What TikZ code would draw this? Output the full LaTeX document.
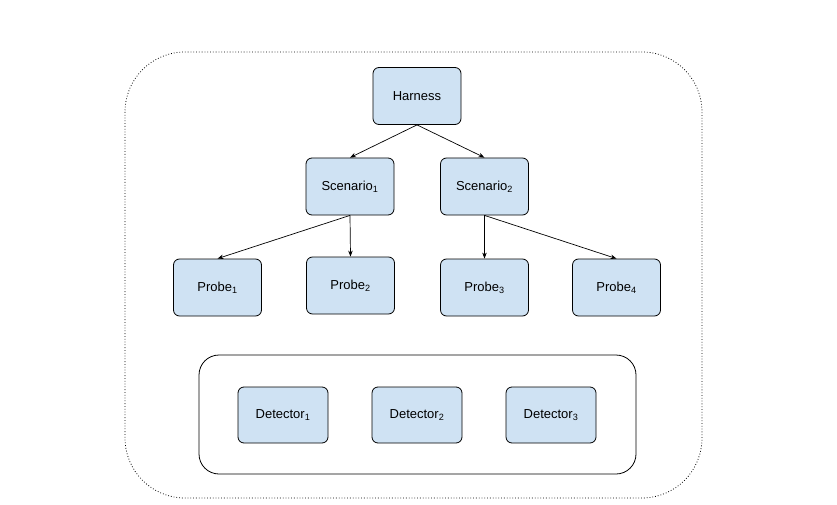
\documentclass[tikz,border=0pt]{standalone}
\usepackage{fontspec}
\setmainfont{Liberation Sans}
\usetikzlibrary{arrows.meta}
\definecolor{boxblue}{HTML}{CFE2F3}
\begin{document}
\begin{tikzpicture}[x=1pt,y=-1pt,
  box/.style={draw=black,fill=boxblue,rounded corners=6pt,minimum width=88pt,minimum height=57pt,font=\fontsize{13}{15}\selectfont,line width=0.8pt},
  arr/.style={-{Stealth[length=6pt,width=4.5pt]},line width=0.7pt}]
\useasboundingbox (0,0) rectangle (837,505);
\draw[dotted,line width=0.8pt,rounded corners=60pt] (125,52) rectangle (702,498);
\draw[line width=0.8pt,rounded corners=20pt] (199,355) rectangle (636,474);
\node[box] (h) at (417,96) {Harness};
\node[box] (s1) at (350,186.5) {Scenario\textsubscript{1}};
\node[box] (s2) at (484.5,186.5) {Scenario\textsubscript{2}};
\node[box] (p1) at (217.5,287.5) {Probe\textsubscript{1}};
\node[box] (p2) at (350.5,285.5) {Probe\textsubscript{2}};
\node[box] (p3) at (484.5,287.5) {Probe\textsubscript{3}};
\node[box] (p4) at (616.5,287.5) {Probe\textsubscript{4}};
\node[box,minimum width=90pt,minimum height=56pt] (d1) at (283,415) {Detector\textsubscript{1}};
\node[box,minimum width=90pt,minimum height=56pt] (d2) at (417,415) {Detector\textsubscript{2}};
\node[box,minimum width=90pt,minimum height=56pt] (d3) at (551,415) {Detector\textsubscript{3}};
\draw[arr] (h.south) -- (s1.north);
\draw[arr] (h.south) -- (s2.north);
\draw[arr] (s1.south) -- (p1.north);
\draw[arr] (s1.south) -- (p2.north);
\draw[arr] (s2.south) -- (p3.north);
\draw[arr] (s2.south) -- (p4.north);
\end{tikzpicture}
\end{document}
